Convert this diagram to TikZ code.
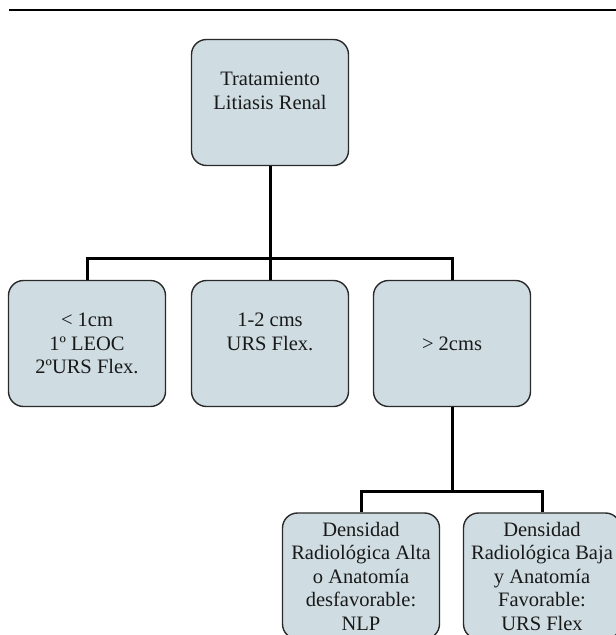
\documentclass[tikz,border=0pt]{standalone}
\usepackage{fontspec}
\setmainfont{Liberation Serif}
\usepackage{tikz}
\usetikzlibrary{positioning}

\definecolor{boxfill}{HTML}{CFDDE2}
\definecolor{boxline}{HTML}{2A2A2A}

\begin{document}
\begin{tikzpicture}[x=1pt,y=-1pt,
    caja/.style={draw=boxline, fill=boxfill, line width=1.4pt, rounded corners=15pt,
        minimum width=157pt, minimum height=126pt, inner sep=0pt, align=center,
        text=black!90, font=\fontsize{20.5}{23.5}\selectfont},
    conn/.style={line width=3pt, black}]
    \useasboundingbox[fill=white] (0,0) rectangle (616,635);
    \draw[line width=1.2pt] (9,10) -- (616,10);

    \node[caja] (tra) at (270,102.5) {Tratamiento\\Litiasis Renal\\ \mbox{}};

    \node[caja] (c1) at (87,343.5) {< 1cm\\1º LEOC\\2ºURS Flex.};
    \node[caja] (c2) at (270,343.5) {1-2 cms\\URS Flex.\\ \mbox{}};
    \node[caja] (c3) at (452,343.5) {> 2cms};

    \node[caja] (d1) at (361,576) {Densidad\\Radiológica Alta\\o Anatomía\\desfavorable:\\NLP};
    \node[caja] (d2) at (542,576) {Densidad\\Radiológica Baja\\y Anatomía\\Favorable:\\URS Flex};

    % conectores
    \coordinate (j1) at (270,258);
    \coordinate (j2) at (452,491);
    \draw[conn] (tra.south) -- (j1);
    \draw[conn] (c1.north) |- (j1) -| (c3.north);
    \draw[conn] (j1) -- (c2.north);
    \draw[conn] (c3.south) -- (j2);
    \draw[conn] (d1.north) |- (j2) -| (d2.north);
\end{tikzpicture}
\end{document}
